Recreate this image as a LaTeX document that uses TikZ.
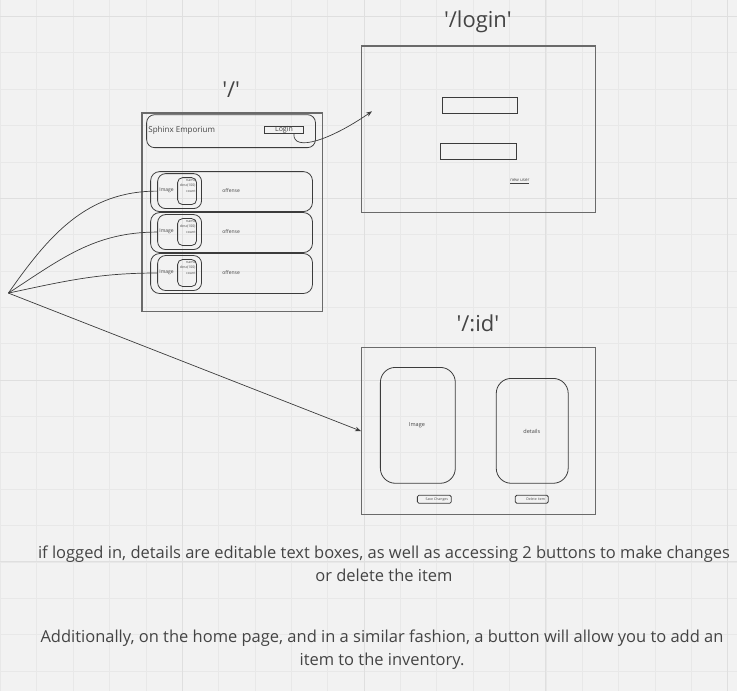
\documentclass[tikz,border=0pt]{standalone}
\usepackage{fontspec}
\setmainfont{Open Sans}
\usetikzlibrary{arrows.meta}
\definecolor{board}{HTML}{F2F2F2}
\definecolor{gridminor}{HTML}{E8E8E8}
\definecolor{gridmajor}{HTML}{DFDFDF}
\definecolor{ink}{HTML}{3C3C3C}
\definecolor{frameink}{HTML}{6A6A6A}
\definecolor{textink}{HTML}{444444}
\newcommand{\fs}[1]{\fontsize{#1}{#1}\selectfont}

\begin{document}
\begin{tikzpicture}[x=1pt,y=-1pt,
    every node/.style={inner sep=0pt, text=textink},
    page/.style={draw=frameink, line width=1.3pt, anchor=north west},
    card/.style={draw=ink, line width=0.8pt, rounded corners=#1, anchor=north west},
    title/.style={font=\fs{22}},
    note/.style={font=\fs{16.5}, align=center},
    link/.style={draw=ink, line width=0.7pt},
    tip/.style={-{Stealth[length=6pt,width=4.5pt]}}]

  % board with grid
  \fill[board] (0,0) rectangle (737,691);
  \foreach \i in {0,...,20} {
    \pgfmathsetmacro{\gx}{\i*36.4}
    \draw[gridminor, line width=0.6pt] (\gx,0) -- (\gx,691);
  }
  \foreach \j in {0,...,18} {
    \pgfmathsetmacro{\gy}{16+\j*36.4}
    \draw[gridminor, line width=0.6pt] (0,\gy) -- (737,\gy);
  }
  \foreach \i in {1,...,4} \draw[gridmajor, line width=0.8pt] (\i*182,0) -- (\i*182,691);
  \foreach \j in {0,...,3} \draw[gridmajor, line width=0.8pt] (0,16+\j*182) -- (737,16+\j*182);

  % home page '/'
  \node[title] (hometitle) at (231,89) {\textquotesingle/\textquotesingle};
  \node[page, minimum width=181, minimum height=199] (home) at (141,112) {};
  \node[card=8, minimum width=169, minimum height=33] (header) at (146,114) {};
  \node[anchor=west, font=\fs{8}] (brand) at (148,130) {Sphinx Emporium};
  \node[draw=ink, line width=0.8pt, minimum width=39, minimum height=7, anchor=north west,
        font=\fs{7}] (loginbtn) at (264,126) {Login};

  \foreach \r/\y in {1/171,2/212,3/253} {
    \node[card=9, minimum width=162, minimum height=40] (row\r) at (150,\y) {};
    \node[card=8, minimum width=44, minimum height=35] (item\r) at (157,\y+2) {};
    \node[card=5, minimum width=19, minimum height=27] (info\r) at (177,\y+6) {};
    \node[anchor=west, font=\fs{5}] (pic\r) at (159,\y+19) {Image};
    \node[anchor=east, font=\fs{3.5}] (name\r) at (195.5,\y+9) {name};
    \node[anchor=east, font=\fs{3.5}] (desc\r) at (195.5,\y+14.5) {desc(100)};
    \node[anchor=east, font=\fs{3.5}] (count\r) at (195.5,\y+20) {count};
    \node[font=\fs{5}] (offense\r) at (231,\y+19) {offense};
  }

  % login page
  \node[title] (logintitle) at (478,21) {\textquotesingle/login\textquotesingle};
  \node[page, minimum width=234, minimum height=167] (login) at (361,45) {};
  \node[draw=ink, line width=0.9pt, minimum width=75, minimum height=16, anchor=north west] (userfield) at (442,97) {};
  \node[draw=ink, line width=0.9pt, minimum width=76, minimum height=16, anchor=north west] (passfield) at (440,143) {};
  \node[font=\fs{4.5}] (newuser) at (520,181) {\underline{new user}};

  % item page
  \node[title] (idtitle) at (478,323) {\textquotesingle/:id\textquotesingle};
  \node[page, minimum width=234, minimum height=167] (idpage) at (361,347) {};
  \node[card=15, minimum width=75, minimum height=116] (imagebox) at (380,367) {};
  \node[font=\fs{5.5}] (imagetext) at (417,425) {Image};
  \node[card=15, minimum width=72, minimum height=105] (detailbox) at (496,378) {};
  \node[font=\fs{5.5}] (detailtext) at (532,431) {details};
  \node[card=1.5, minimum width=34, minimum height=8, font=\fs{3.5}] (savebtn) at (417,495) {\hspace{5pt}Save Changes};
  \node[card=1.5, minimum width=33, minimum height=8, font=\fs{3.5}] (deletebtn) at (515,495) {\hspace{8pt}Delete item};

  % connectors
  \coordinate (hub) at (8,293);
  \coordinate (loginin) at (372,111);
  \draw[link] (hub) to[out=55,in=180] (item1.west);
  \draw[link] (hub) to[out=33,in=180] (item2.west);
  \draw[link] (hub) to[out=12,in=180] (item3.west);
  \draw[link,tip] (hub) -- (idpage.west);
  \draw[link,tip] ([xshift=-10pt]loginbtn.south east) .. controls (293,152) and (330,140) .. (loginin);

  % notes
  \node[note] (note1) at (384,563.5) {if logged in, details are editable text boxes, as well as accessing 2 buttons to make changes\\[6.5pt]or delete the item};
  \node[note] (note2) at (382,650) {Additionally, on the home page, and in a similar fashion, a button will allow you to add an\\[6.5pt]item to the inventory.};
\end{tikzpicture}
\end{document}
